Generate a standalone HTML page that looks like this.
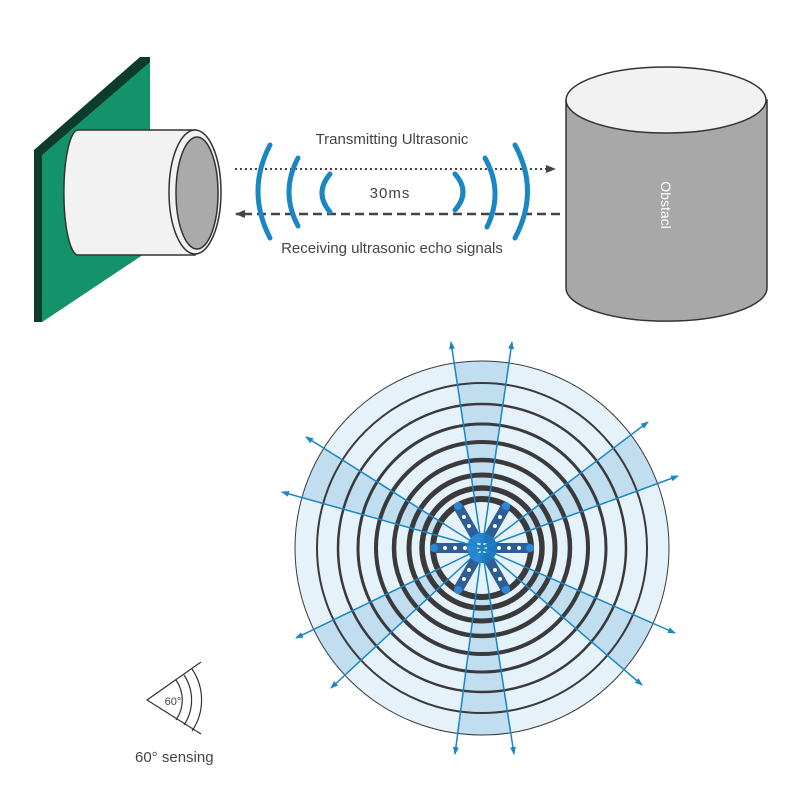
<!DOCTYPE html>
<html><head><meta charset="utf-8"><style>html,body{margin:0;padding:0;background:#fff}svg{display:block}text{font-family:"Liberation Sans",sans-serif}</style></head>
<body>
<svg width="800" height="800" viewBox="0 0 800 800" xmlns="http://www.w3.org/2000/svg">
<defs>
<marker id="ah" markerWidth="10" markerHeight="8" refX="9" refY="4" orient="auto" markerUnits="userSpaceOnUse"><path d="M0,0 L10,4 L0,8 Z" fill="#444"/></marker>
<marker id="ba" markerWidth="8" markerHeight="6" refX="7" refY="3" orient="auto" markerUnits="userSpaceOnUse"><path d="M0,0 L8,3 L0,6 Z" fill="#1a86c4"/></marker>
</defs>
<!-- board -->
<polygon points="34,150 140,57 150,57 150,250 42,322 34,322" fill="#0d3b2c"/>
<polygon points="42,155 150,62 150,250 42,322" fill="#14936a"/>
<!-- sensor cylinder -->
<path d="M78,130 L195,130 L195,255 L78,255 A14,62 0 0 1 78,130 Z" fill="#f2f2f2" stroke="#333" stroke-width="1.5"/>
<ellipse cx="195" cy="192" rx="26" ry="62" fill="#f2f2f2" stroke="#333" stroke-width="1.5"/>
<ellipse cx="197" cy="193" rx="21" ry="56" fill="#aaa" stroke="#333" stroke-width="1.5"/>
<!-- arrows -->
<line x1="235" y1="169" x2="555" y2="169" stroke="#444" stroke-width="2" stroke-dasharray="2,3" marker-end="url(#ah)"/>
<line x1="560" y1="214" x2="236" y2="214" stroke="#444" stroke-width="2.5" stroke-dasharray="9,5" marker-end="url(#ah)"/>
<!-- waves -->
<g fill="none" stroke="#1a86c4" stroke-width="5" stroke-linecap="round">
<path d="M270,145 Q246,191 270,238"/>
<path d="M298,158 Q280,192 298,226"/>
<path d="M330,174 Q314,193 330,212"/>
<path d="M455,174 Q471,192 455,210"/>
<path d="M485,158 Q504,192 487,227"/>
<path d="M515,145 Q540,191 515,238"/>
</g>
<text x="392" y="144" font-size="15" fill="#444" text-anchor="middle">Transmitting Ultrasonic</text>
<text x="390" y="198" font-size="15" fill="#444" text-anchor="middle" letter-spacing="1">30ms</text>
<text x="392" y="253" font-size="15" fill="#444" text-anchor="middle">Receiving ultrasonic echo signals</text>
<!-- obstacle -->
<path d="M566,100 L566,288 A100,33 0 0 0 767,288 L767,100 Z" fill="#a8a8a8" stroke="#333" stroke-width="1.5"/>
<ellipse cx="666" cy="100" rx="100" ry="33" fill="#f2f2f2" stroke="#333" stroke-width="1.5"/>
<text x="0" y="0" font-size="14" fill="#fff" text-anchor="middle" transform="translate(661,205) rotate(90)">Obstacl</text>
<!-- radar -->
<circle cx="482" cy="548" r="187" fill="#e5f2fa"/>
<g fill="#c0def0">
<path d="M482,548 L454.1,363.1 A187,187 0 0 1 509,363.1 Z"/>
<path d="M482,548 L631,434.9 A187,187 0 0 1 657.6,483.5 Z"/>
<path d="M482,548 L301.9,497.6 A187,187 0 0 1 323.8,448.3 Z"/>
<path d="M482,548 L344.9,675.2 A187,187 0 0 1 313.7,629.5 Z"/>
<path d="M482,548 L653.1,623.4 A187,187 0 0 1 624.1,669.6 Z"/>
<path d="M482,548 L510.7,732.8 A187,187 0 0 1 457.7,733.3 Z"/>
</g>
<circle cx="482" cy="548" r="49" fill="#e5f2fa"/>
<g fill="none" stroke="#3a3a3c">
<circle cx="482" cy="548" r="187" stroke-width="1"/>
<circle cx="482" cy="548" r="165" stroke-width="2"/>
<circle cx="482" cy="548" r="144" stroke-width="2.5"/>
<circle cx="482" cy="548" r="124" stroke-width="3"/>
<circle cx="482" cy="548" r="106" stroke-width="4"/>
<circle cx="482" cy="548" r="88" stroke-width="4.5"/>
<circle cx="482" cy="548" r="73" stroke-width="5"/>
<circle cx="482" cy="548" r="60" stroke-width="5.5"/>
<circle cx="482" cy="548" r="49" stroke-width="6"/>
</g>
<!-- hexacopter -->
<g stroke="#2d5f96" stroke-width="10" stroke-linecap="round">
<line x1="482" y1="548" x2="436" y2="548"/><line x1="482" y1="548" x2="528" y2="548"/>
<line x1="482" y1="548" x2="459" y2="508"/><line x1="482" y1="548" x2="505" y2="508"/>
<line x1="482" y1="548" x2="459" y2="588"/><line x1="482" y1="548" x2="505" y2="588"/>
</g>
<g fill="#fff">
<circle cx="445" cy="548" r="2"/><circle cx="455" cy="548" r="2"/><circle cx="465" cy="548" r="2"/>
<circle cx="499" cy="548" r="2"/><circle cx="509" cy="548" r="2"/><circle cx="519" cy="548" r="2"/>
<circle cx="464" cy="517" r="2"/><circle cx="469" cy="526" r="2"/><circle cx="500" cy="517" r="2"/><circle cx="495" cy="526" r="2"/>
<circle cx="464" cy="579" r="2"/><circle cx="469" cy="570" r="2"/><circle cx="500" cy="579" r="2"/><circle cx="495" cy="570" r="2"/>
</g>
<g fill="#2b88d8">
<circle cx="434" cy="548" r="4"/><circle cx="530" cy="548" r="4"/><circle cx="458" cy="506" r="4"/><circle cx="506" cy="506" r="4"/><circle cx="458" cy="590" r="4"/><circle cx="506" cy="590" r="4"/>
</g>
<circle cx="482" cy="548" r="15" fill="#2b88d8"/>
<path d="M482,533 A15,15 0 0 1 482,563 Z" fill="#1f74c0"/>
<g stroke="#fff" stroke-width="1.5"><line x1="477" y1="544" x2="487" y2="544"/><line x1="477" y1="548" x2="487" y2="548"/><line x1="477" y1="552" x2="487" y2="552"/></g>
<!-- rays -->
<g stroke="#1a86c4" stroke-width="1.5" marker-end="url(#ba)">
<line x1="482" y1="548" x2="451" y2="342"/><line x1="482" y1="548" x2="512" y2="342"/>
<line x1="482" y1="548" x2="648" y2="422"/><line x1="482" y1="548" x2="678" y2="476"/>
<line x1="482" y1="548" x2="306" y2="437"/><line x1="482" y1="548" x2="282" y2="492"/>
<line x1="482" y1="548" x2="296" y2="638"/><line x1="482" y1="548" x2="331" y2="688"/>
<line x1="482" y1="548" x2="675" y2="633"/><line x1="482" y1="548" x2="642" y2="685"/>
<line x1="482" y1="548" x2="455" y2="754"/><line x1="482" y1="548" x2="514" y2="754"/>
</g>
<!-- 60 sensing -->
<g fill="none" stroke="#333" stroke-width="1.2">
<polyline points="201,662 147,700 201,734"/>
<path d="M176,680 A35,35 0 0 1 176,720"/>
<path d="M184,675 A45,45 0 0 1 184,725"/>
<path d="M192,669 A55,55 0 0 1 192,731"/>
</g>
<text x="173" y="705" font-size="11" fill="#444" text-anchor="middle">60°</text>
<text x="135" y="762" font-size="15" fill="#444">60° sensing</text>
</svg>
</body></html>
